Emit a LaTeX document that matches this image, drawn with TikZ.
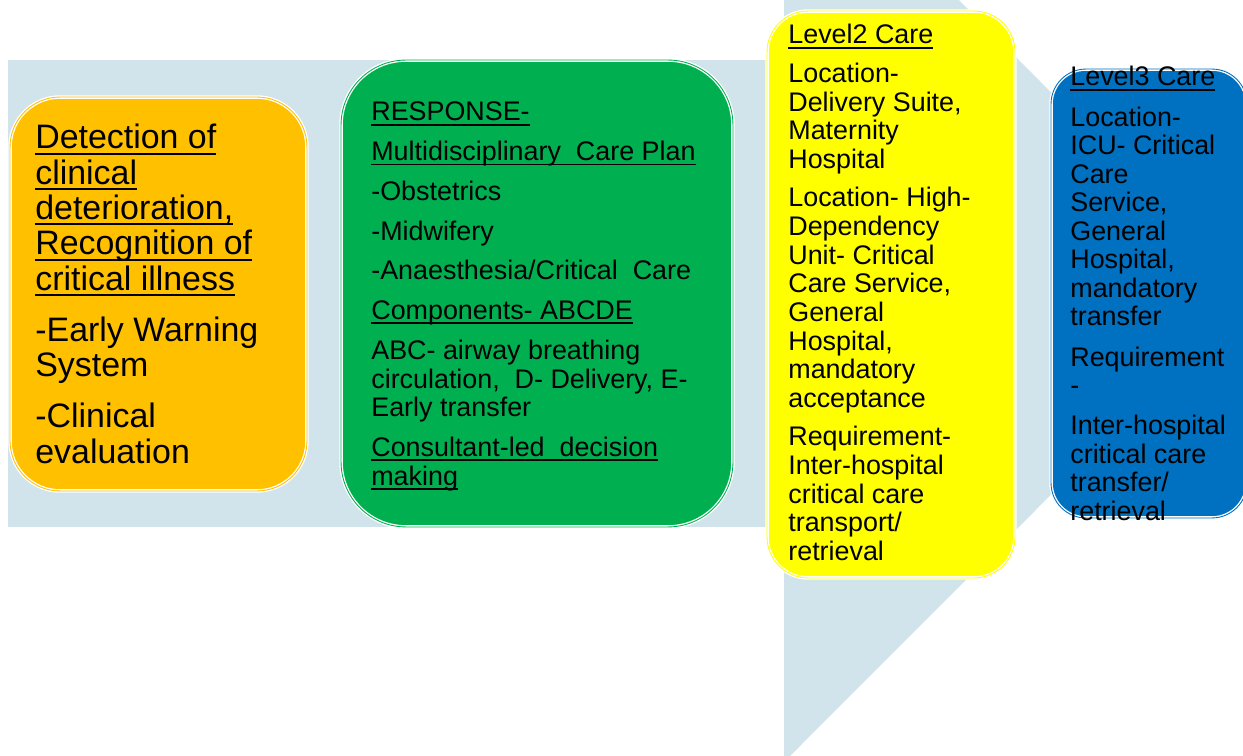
\documentclass[tikz,border=0pt]{standalone}
\usepackage{fontspec}
\setmainfont{Liberation Sans}
\usetikzlibrary{positioning}
\definecolor{bandblue}{RGB}{209,227,235}
\definecolor{detectgold}{RGB}{255,192,0}
\definecolor{responsegreen}{RGB}{0,176,80}
\definecolor{levelyellow}{RGB}{255,255,0}
\definecolor{levelblue}{RGB}{0,112,192}
\newcommand{\undl}[1]{\leavevmode\setbox0\hbox{#1}\rlap{\rule[-0.17em]{\wd0}{0.065em}}\box0}
\newcommand{\cardbody}[5]{\parbox[t]{#1}{\fontsize{#2}{#3}\selectfont\setlength{\parskip}{#4}\raggedright #5}}
\begin{document}
\begin{tikzpicture}[x=0.02cm,y=-0.02cm,line join=round,
    card/.style={rectangle,draw=white,line width=0.75pt,double distance=0.5pt,inner sep=0pt},
    cardtext/.style={anchor=base west,inner sep=0pt,text=black}]
  \useasboundingbox (0,0) rectangle (1243,756);
  \clip (0,0) rectangle (1243,756);
  \fill[bandblue] (8,60) rectangle (784,527);
  \fill[bandblue] (784,-175) -- (1252,293.5) -- (784,762) -- cycle;

  \node[card,fill=detectgold,double=detectgold,rounded corners=1cm,
    minimum width=5.94cm,minimum height=7.88cm] (detect) at (158.5,294) {};
  \node[card,fill=responsegreen,double=responsegreen,rounded corners=1.3cm,
    minimum width=7.84cm,minimum height=9.34cm] (response) at (537,293.5) {};
  \node[card,fill=levelyellow,double=levelyellow,rounded corners=0.82cm,
    minimum width=4.96cm,minimum height=11.34cm] (level2) at (891,294.5) {};
  \node[card,fill=levelblue,double=levelblue,rounded corners=0.7cm,
    minimum width=3.92cm,minimum height=8.98cm] (level3) at (1149,293.5) {};

  \node[cardtext] (detect-text) at (35,149) {\cardbody{5.4cm}{19.3pt}{20.1pt}{9pt}{%
    \undl{Detection of}\\ \undl{clinical}\\ \undl{deterioration,}\\
    \undl{Recognition of}\\ \undl{critical illness}\par
    -Early Warning\\ System\par
    -Clinical\\ evaluation}};
  \node[cardtext] (response-text) at (371,121) {\cardbody{7.2cm}{15.3pt}{16.4pt}{6.2pt}{%
    \undl{RESPONSE-}\par
    \undl{Multidisciplinary\ \ Care Plan}\par
    -Obstetrics\par
    -Midwifery\par
    -Anaesthesia/Critical\ \ Care\par
    \undl{Components- ABCDE}\par
    ABC- airway breathing\\ circulation,\ \ D- Delivery, E-\\ Early transfer\par
    \undl{Consultant-led\ \ decision}\\ \undl{making}}};
  \node[cardtext] (level2-text) at (788,44) {\cardbody{4.5cm}{15.3pt}{16.3pt}{5.6pt}{%
    \undl{Level2 Care}\par
    Location-\\ Delivery Suite,\\ Maternity\\ Hospital\par
    Location- High-\\ Dependency\\ Unit- Critical\\ Care Service,\\ General\\
    Hospital,\\ mandatory\\ acceptance\par
    Requirement-\\ Inter-hospital\\ critical care\\ transport/\\ retrieval}};
  \node[cardtext] (level3-text) at (1070,86) {\cardbody{3.6cm}{15.3pt}{16.2pt}{6.8pt}{%
    \undl{Level3 Care}\par
    Location-\\ ICU- Critical\\ Care\\ Service,\\ General\\ Hospital,\\
    mandatory\\ transfer\par
    Requirement\\ -\par
    Inter-hospital\\ critical care\\ transfer/\\ retrieval}};
\end{tikzpicture}
\end{document}
